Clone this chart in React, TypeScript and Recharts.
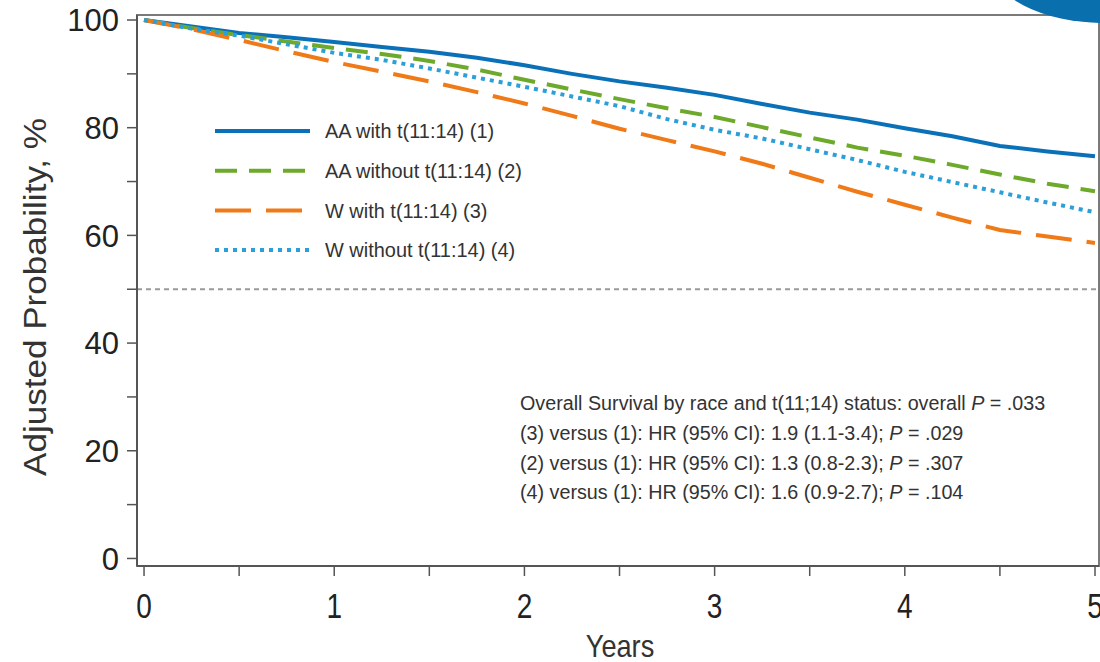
import { Legend, Line, LineChart, ReferenceArea, ReferenceLine, XAxis, YAxis } from "recharts";

// Follow-up time (years) and adjusted survival probability (%) per group
const years = [0, 0.25, 0.5, 0.75, 1, 1.25, 1.5, 1.75, 2, 2.25, 2.5, 2.75, 3, 3.25, 3.5, 3.75, 4, 4.25, 4.5, 4.75, 5];
const aaWith = [100, 98.8, 97.6, 96.8, 95.9, 95.0, 94.1, 93.0, 91.6, 90.0, 88.6, 87.4, 86.1, 84.4, 82.8, 81.5, 79.9, 78.4, 76.6, 75.6, 74.7];
const aaWithout = [100, 98.5, 97.2, 96.0, 94.8, 93.7, 92.4, 90.8, 88.9, 87.1, 85.3, 83.6, 82.0, 80.1, 78.2, 76.3, 74.8, 73.1, 71.3, 69.6, 68.2];
const wWith = [100, 98.3, 96.3, 94.2, 92.2, 90.4, 88.6, 86.6, 84.5, 82.2, 79.8, 77.7, 75.6, 73.3, 70.7, 68.1, 65.7, 63.3, 61.0, 59.8, 58.6];
const wWithout = [100, 98.4, 97.1, 95.5, 93.9, 92.6, 91.0, 89.3, 87.6, 85.8, 84.0, 81.6, 79.6, 78.0, 76.0, 74.0, 71.8, 69.9, 68.0, 66.1, 64.3];

const seriesKeys = ["aaWith", "aaWithout", "wWith", "wWithout"];
const seriesNames = ["AA with t(11:14) (1)", "AA without t(11:14) (2)", "W with t(11:14) (3)", "W without t(11:14) (4)"];
const seriesColors = ["#0A71B8", "#6DAA2C", "#EF7A17", "#2A9FD8"];
const seriesDashes = [undefined, "22 12", "36 15", "4 5"];

const xTicks = [0, 0.5, 1, 1.5, 2, 2.5, 3, 3.5, 4, 4.5, 5];
const yTicks = [0, 10, 20, 30, 40, 50, 60, 70, 80, 90, 100];

const statsLines = [
  { text: "Overall Survival by race and t(11;14) status: overall ", p: " = .033" },
  { text: "(3) versus (1): HR (95% CI): 1.9 (1.1-3.4); ", p: " = .029" },
  { text: "(2) versus (1): HR (95% CI): 1.3 (0.8-2.3); ", p: " = .307" },
  { text: "(4) versus (1): HR (95% CI): 1.6 (0.9-2.7); ", p: " = .104" },
];

const X_DOMAIN: [number, number] = [-0.037, 5.021];
const Y_DOMAIN: [number, number] = [-1.4, 100.93];
const FONT = '"Liberation Sans", Arial, sans-serif';

const data = years.map((t, i) => ({
  t,
  aaWith: aaWith[i],
  aaWithout: aaWithout[i],
  wWith: wWith[i],
  wWithout: wWithout[i],
}));

const YTick = (props: any) => {
  const { y, payload } = props;
  if (payload.value % 20 !== 0) return <g />;
  return (
    <text x={119} y={y} dy="0.36em" textAnchor="end" fontSize={31} fill="#222" fontFamily={FONT}>
      {payload.value}
    </text>
  );
};

const XTick = (props: any) => {
  const { x, payload } = props;
  if (payload.value % 1 !== 0) return <g />;
  return (
    <g transform={`translate(${x},618) scale(0.8,1)`}>
      <text x={0} y={0} textAnchor="middle" fontSize={35} fill="#222" fontFamily={FONT}>
        {payload.value}
      </text>
    </g>
  );
};

const YTitle = () => (
  <text
    transform="translate(46,297) rotate(-90)"
    textAnchor="middle"
    fontSize={31}
    fill="#333"
    fontFamily={FONT}
    textLength={358}
    lengthAdjust="spacingAndGlyphs"
  >
    Adjusted Probability, %
  </text>
);

const XTitle = () => (
  <g transform="translate(620,657) scale(0.85,1)">
    <text x={0} y={0} textAnchor="middle" fontSize={32} fill="#333" fontFamily={FONT}>
      Years
    </text>
  </g>
);

const LegendBox = () => (
  <svg width={330} height={150} style={{ display: "block" }}>
    {seriesKeys.map((k, i) => {
      const cy = 16 + i * 39.7;
      return (
        <g key={k}>
          <line x1={5} x2={100} y1={cy} y2={cy} stroke={seriesColors[i]} strokeWidth={4} strokeDasharray={seriesDashes[i]} />
          <g transform={`translate(115,${cy}) scale(0.95,1)`}>
            <text x={0} y={0} dy="0.35em" fontSize={21} fill="#333" fontFamily={FONT}>
              {seriesNames[i]}
            </text>
          </g>
        </g>
      );
    })}
  </svg>
);

export default function App() {
  return (
    <div style={{ position: "absolute", left: 0, top: 0, width: 1100, height: 662, overflow: "hidden", background: "#fff" }}>
      <LineChart width={1100} height={662} data={data} margin={{ top: 15, right: 1, bottom: 0, left: 0 }}>
        <ReferenceArea
          x1={X_DOMAIN[0]}
          x2={X_DOMAIN[1]}
          y1={Y_DOMAIN[0]}
          y2={Y_DOMAIN[1]}
          fill="none"
          stroke="#7a7a7a"
          strokeWidth={2}
          ifOverflow="visible"
        />
        <XAxis
          dataKey="t"
          type="number"
          domain={X_DOMAIN}
          allowDataOverflow
          ticks={xTicks}
          tickSize={10}
          height={96}
          tick={<XTick />}
          tickLine={{ stroke: "#555", strokeWidth: 1.5 }}
          axisLine={{ stroke: "#555", strokeWidth: 2 }}
          label={<XTitle />}
        />
        <YAxis
          type="number"
          domain={Y_DOMAIN}
          allowDataOverflow
          ticks={yTicks}
          tickSize={10}
          width={137}
          tick={<YTick />}
          tickLine={{ stroke: "#555", strokeWidth: 1.5 }}
          axisLine={{ stroke: "#555", strokeWidth: 2 }}
          label={<YTitle />}
        />
        <ReferenceLine y={50} stroke="#9a9a9a" strokeWidth={2} strokeDasharray="5 4" />
        {seriesKeys.map((k, i) => (
          <Line
            key={k}
            dataKey={k}
            name={seriesNames[i]}
            type="linear"
            stroke={seriesColors[i]}
            strokeWidth={4}
            strokeDasharray={seriesDashes[i]}
            dot={false}
            activeDot={false}
            isAnimationActive={false}
          />
        ))}
        <Legend
          layout="vertical"
          align="center"
          verticalAlign="middle"
          content={<LegendBox />}
          wrapperStyle={{ position: "absolute", left: 210, top: 115, width: 330, height: 150 }}
        />
      </LineChart>
      <svg width={1100} height={662} style={{ position: "absolute", left: 0, top: 0, pointerEvents: "none" }}>
        {statsLines.map((l, i) => (
          <g key={i} transform={`translate(520,${403 + i * 29.7}) scale(0.94,1)`}>
            <text x={0} y={0} dy="0.35em" fontSize={21} fill="#333" fontFamily={FONT}>
              {l.text}
              <tspan fontStyle="italic">P</tspan>
              {l.p}
            </text>
          </g>
        ))}
      </svg>
      <div
        style={{
          position: "absolute",
          left: 990,
          top: -97,
          width: 230,
          height: 120,
          borderRadius: "50%",
          background: "#0A6FAD",
        }}
      />
    </div>
  );
}
